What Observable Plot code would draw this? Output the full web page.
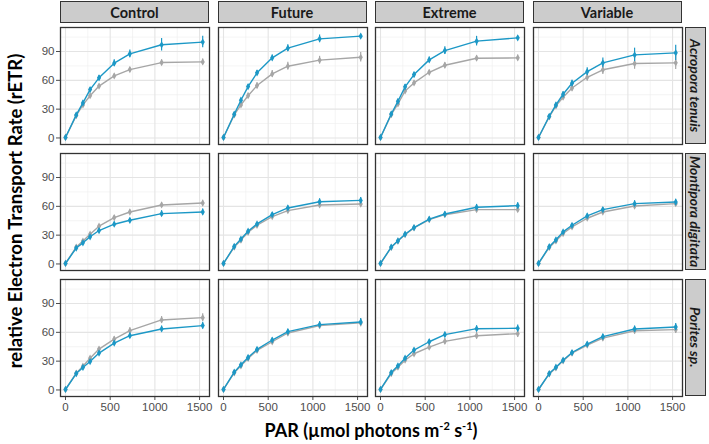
<!DOCTYPE html>
<html><head><meta charset="utf-8">
<script src="https://cdn.jsdelivr.net/npm/d3@7"></script>
<script src="https://cdn.jsdelivr.net/npm/@observablehq/plot@0.6"></script>
<style>
body{margin:0;background:#fff;}
#chart{position:relative;width:709px;height:444px;overflow:hidden;font-family:Lato,"Open Sans",sans-serif;background:#fff;}
#chart svg{position:absolute;}
.strip{position:absolute;background:#CCCCCC;border:1.2px solid #333;box-sizing:border-box;display:flex;align-items:center;justify-content:center;font-weight:bold;color:#1A1A1A;font-size:14.5px;}
.vstrip{writing-mode:vertical-rl;font-style:italic;font-size:14px;}
.ytitle{position:absolute;left:15px;top:211px;transform:translate(-50%,-50%) rotate(-90deg);white-space:nowrap;font-weight:bold;font-size:18.5px;color:#000;}
.xtitle{position:absolute;left:371px;top:430px;transform:translate(-50%,-50%);white-space:nowrap;font-weight:bold;font-size:18px;color:#000;}
.xtitle sup{font-size:11px;vertical-align:7px;line-height:0;}
</style></head>
<body><div id="chart"></div>
<script>
// ---- data ----
const par = [0, 120, 195, 275, 375, 545, 720, 1075, 1535];
const treatments = ["Control", "Future", "Extreme", "Variable"];
const species = ["Acropora tenuis", "Montipora digitata", "Porites sp."];
const xTicks = [0, 500, 1000, 1500];
const xMinor = [250, 750, 1250];
const yTicks = [0, 30, 60, 90];
const yMinor = [15, 45, 75, 105];

// Acropora tenuis
const acro_control_blue  = [0.5, 24, 36.5, 50.4, 62.6, 77.9, 87.6, 97, 99.8];
const acro_control_grey  = [0.5, 23.3, 34.4, 44, 54, 64.6, 71.2, 78.5, 79.2];
const acro_future_blue   = [0.5, 24.7, 39.3, 53.5, 67.8, 83.4, 93.5, 103.2, 106];
const acro_future_grey   = [0.5, 24, 34.4, 44, 54.6, 66.7, 74.7, 81, 84];
const acro_extreme_blue  = [0.5, 25, 38.2, 53.2, 66, 81.3, 91, 100.8, 104.2];
const acro_extreme_grey  = [0.5, 24.3, 35.4, 49, 57.3, 68.4, 75.7, 83, 83.4];
const acro_variable_blue = [0.5, 22.6, 34.4, 45.5, 57, 69.1, 78.2, 86.5, 88.6];
const acro_variable_grey = [0.5, 22, 33.4, 42.4, 52, 63.2, 71, 77.5, 78.2];
// Montipora digitata
const mont_control_blue  = [0.5, 16.6, 22, 28.3, 34.8, 41.4, 45.5, 52.4, 54.1];
const mont_control_grey  = [0.5, 17.6, 23.8, 31, 39.3, 48.3, 54.1, 61.4, 63.4];
const mont_future_blue   = [0.5, 18.3, 25.9, 34.1, 41.7, 51.4, 58.3, 64.8, 66.2];
const mont_future_grey   = [0.5, 17.6, 24.8, 33, 40.3, 49.3, 55.5, 61.4, 62.4];
const mont_extreme_blue  = [0.5, 17.6, 24.1, 31, 37.9, 46.6, 52, 59, 60.7];
const mont_extreme_grey  = [0.5, 17.2, 23.8, 30.6, 37.6, 46.2, 51.3, 56.6, 56.6];
const mont_variable_blue = [0.5, 18, 25.2, 33.4, 40.3, 50, 56.6, 62.8, 64.5];
const mont_variable_grey = [0.5, 17.2, 24, 31.7, 38.6, 47.6, 54.1, 60.3, 62.8];
// Porites sp.
const pori_control_blue  = [0.5, 17.1, 23.4, 29.6, 38.4, 48.8, 56.5, 63.5, 67];
const pori_control_grey  = [0.5, 17.4, 24.8, 33.1, 42.6, 53, 61.7, 72.9, 75.3];
const pori_future_blue   = [0.5, 18.5, 26.2, 33.8, 42.2, 52, 60.7, 68, 70.8];
const pori_future_grey   = [0.5, 17.8, 25.1, 32.8, 41.2, 50.2, 59.3, 67, 69.8];
const pori_extreme_blue  = [0.5, 18.1, 25.1, 33.1, 41.5, 50.2, 57.6, 63.8, 64.2];
const pori_extreme_grey  = [0.5, 17.1, 23.7, 31, 37.7, 44.6, 50.6, 56.5, 58.6];
const pori_variable_blue = [0.5, 17.1, 23.7, 31, 39, 47.8, 55.5, 63.5, 65.6];
const pori_variable_grey = [0.5, 16.7, 23, 30.3, 38.4, 46.7, 54, 61.7, 62.8];

// error bars
const acro_control_blue_err  = [0.5, 1.5, 2, 2, 2.5, 3.5, 4, 6.5, 6];
const acro_control_grey_err  = [0.5, 1, 1.5, 1.5, 2, 2, 2.5, 3, 3];
const acro_future_blue_err   = [0.5, 1.5, 2, 2, 2.5, 3, 3.5, 4, 2];
const acro_future_grey_err   = [0.5, 1.5, 2, 2.5, 3, 3.5, 4, 4, 5];
const acro_extreme_blue_err  = [0.5, 1.5, 2, 2.5, 2.5, 3, 4, 5, 2];
const acro_extreme_grey_err  = [0.5, 1, 1.5, 2, 2, 2, 2.5, 2.5, 3];
const acro_variable_blue_err = [0.5, 1.5, 2, 2.5, 3, 4, 5, 7, 8];
const acro_variable_grey_err = [0.5, 1.5, 2, 2.5, 3, 4, 5, 6, 7];
const mont_blue_err = [0.3, 1, 1, 1.5, 1.5, 2, 2, 3, 3];
const mont_grey_err = [0.3, 1, 1, 1.5, 1.5, 2, 2, 2.5, 3];
const pori_blue_err = [0.3, 1, 1, 1.5, 2, 2, 2.5, 3, 3.5];
const pori_grey_err = [0.3, 1, 1, 1.5, 2, 2.5, 3, 3.5, 4];

const panels = {
  "Acropora tenuis": {
    Control:  [acro_control_grey, acro_control_grey_err, acro_control_blue, acro_control_blue_err],
    Future:   [acro_future_grey, acro_future_grey_err, acro_future_blue, acro_future_blue_err],
    Extreme:  [acro_extreme_grey, acro_extreme_grey_err, acro_extreme_blue, acro_extreme_blue_err],
    Variable: [acro_variable_grey, acro_variable_grey_err, acro_variable_blue, acro_variable_blue_err]
  },
  "Montipora digitata": {
    Control:  [mont_control_grey, mont_grey_err, mont_control_blue, mont_blue_err],
    Future:   [mont_future_grey, mont_grey_err, mont_future_blue, mont_blue_err],
    Extreme:  [mont_extreme_grey, mont_grey_err, mont_extreme_blue, mont_blue_err],
    Variable: [mont_variable_grey, mont_grey_err, mont_variable_blue, mont_blue_err]
  },
  "Porites sp.": {
    Control:  [pori_control_grey, pori_grey_err, pori_control_blue, pori_blue_err],
    Future:   [pori_future_grey, pori_grey_err, pori_future_blue, pori_blue_err],
    Extreme:  [pori_extreme_grey, pori_grey_err, pori_extreme_blue, pori_blue_err],
    Variable: [pori_variable_grey, pori_grey_err, pori_variable_blue, pori_blue_err]
  }
};

// ---- layout ----
const colLeft = [60, 217.5, 375, 532.5];
const rowTop = [27, 153, 278.5];
const W = 149, H = 117;
const GREY = "#A6A6A6", BLUE = "#1C98C6";
const chart = document.getElementById("chart");

function rows(vals, errs) {
  return par.map((p, i) => ({par: p, y: vals[i], lo: vals[i] - errs[i], hi: vals[i] + errs[i]}));
}

species.forEach((sp, r) => {
  treatments.forEach((tr, c) => {
    const [gv, ge, bv, be] = panels[sp][tr];
    const g = rows(gv, ge), b = rows(bv, be);
    const ml = c === 0 ? 40 : 0;
    const mb = r === 2 ? 24 : 0;
    const svg = Plot.plot({
      width: W + ml, height: H + mb,
      marginLeft: ml, marginRight: 0, marginTop: 0, marginBottom: mb,
      style: {background: "transparent", overflow: "visible", fontFamily: "'Liberation Sans', Arial, sans-serif", fontSize: "11.5px", color: "#4D4D4D"},
      x: {domain: [-56, 1611], ticks: xTicks, tickFormat: d => String(d), tickSize: 4, tickPadding: 2, label: null, axis: r === 2 ? "bottom" : null},
      y: {domain: [-6.8, 115], ticks: yTicks, tickSize: 4, tickPadding: 2, label: null, axis: c === 0 ? "left" : null},
      marks: [
        Plot.ruleX(xMinor, {stroke: "#EDEDED", strokeWidth: 0.6}),
        Plot.ruleY(yMinor, {stroke: "#EDEDED", strokeWidth: 0.6}),
        Plot.ruleX(xTicks, {stroke: "#E4E4E4", strokeWidth: 1.1}),
        Plot.ruleY(yTicks, {stroke: "#E4E4E4", strokeWidth: 1.1}),
        Plot.ruleX(g, {x: "par", y1: "lo", y2: "hi", stroke: GREY, strokeWidth: 1.2}),
        Plot.line(g, {x: "par", y: "y", stroke: GREY, strokeWidth: 1.4}),
        Plot.dot(g, {x: "par", y: "y", fill: GREY, r: 2.2, symbol: "diamond"}),
        Plot.ruleX(b, {x: "par", y1: "lo", y2: "hi", stroke: BLUE, strokeWidth: 1.2}),
        Plot.line(b, {x: "par", y: "y", stroke: BLUE, strokeWidth: 1.4}),
        Plot.dot(b, {x: "par", y: "y", fill: BLUE, r: 2.2, symbol: "diamond"}),
        Plot.frame({stroke: "#333333", strokeWidth: 1.3})
      ]
    });
    svg.style.left = (colLeft[c] - ml) + "px";
    svg.style.top = rowTop[r] + "px";
    chart.appendChild(svg);
  });
});

// strips
treatments.forEach((tr, c) => {
  const d = document.createElement("div");
  d.className = "strip";
  Object.assign(d.style, {left: colLeft[c] + "px", top: "1px", width: W + "px", height: "22px"});
  d.textContent = tr;
  chart.appendChild(d);
});
species.forEach((sp, r) => {
  const d = document.createElement("div");
  d.className = "strip vstrip";
  Object.assign(d.style, {left: "685px", top: rowTop[r] + "px", width: "21px", height: H + "px"});
  d.textContent = sp;
  chart.appendChild(d);
});
const yt = document.createElement("div");
yt.className = "ytitle";
yt.textContent = "relative Electron Transport Rate (rETR)";
chart.appendChild(yt);
const xt = document.createElement("div");
xt.className = "xtitle";
xt.innerHTML = "PAR (µmol photons m<sup>-2</sup> s<sup>-1</sup>)";
chart.appendChild(xt);
</script>
</body></html>
